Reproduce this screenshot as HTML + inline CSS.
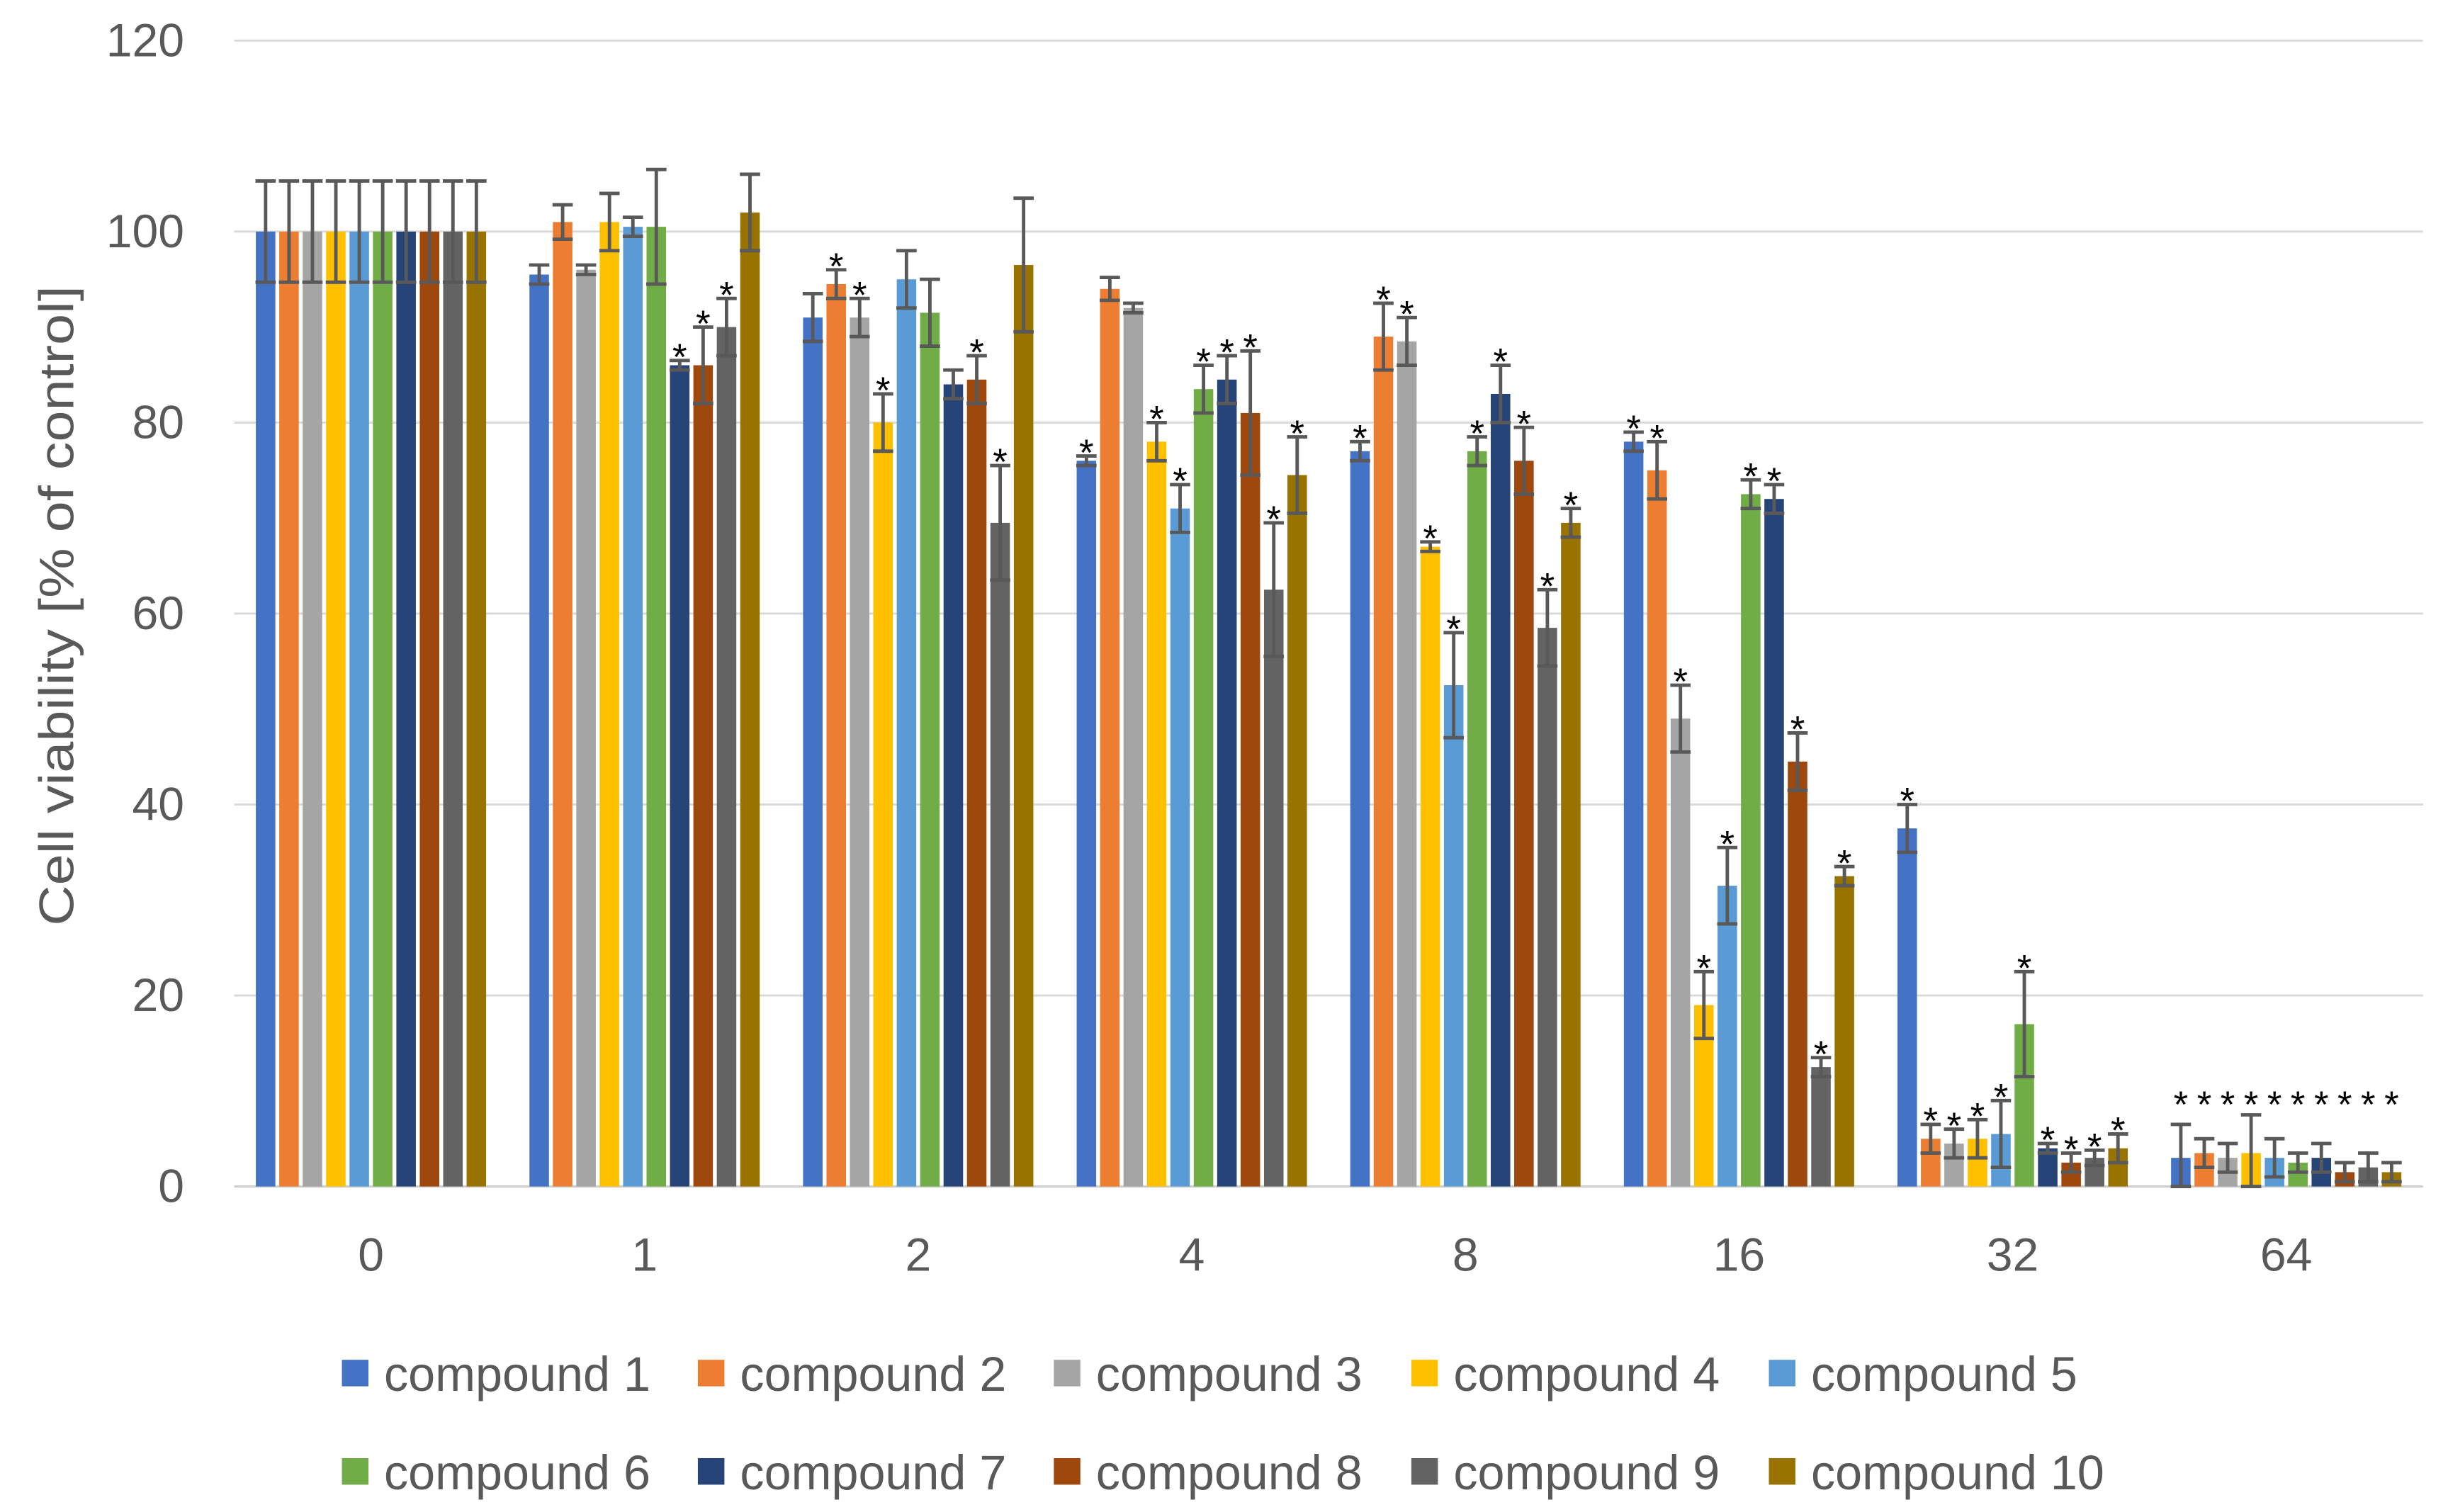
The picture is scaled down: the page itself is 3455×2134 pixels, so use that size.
<!DOCTYPE html>
<html><head><meta charset="utf-8"><style>
html,body{margin:0;padding:0;background:#fff;}
svg{display:block;}
text{font-family:"Liberation Sans",sans-serif;}
</style></head><body>
<svg id="chart" width="3455" height="2134" viewBox="0 0 1568 968.5" preserveAspectRatio="none" xmlns="http://www.w3.org/2000/svg"></svg>
<script>
const categories = ["0","1","2","4","8","16","32","64"];
const seriesNames = ["compound 1","compound 2","compound 3","compound 4","compound 5","compound 6","compound 7","compound 8","compound 9","compound 10"];
const seriesColors = ["#4472C4","#ED7D31","#A5A5A5","#FFC000","#5B9BD5","#70AD47","#264478","#9E480E","#636363","#997300"];
const values = [
 [100,100,100,100,100,100,100,100,100,100],
 [95.5,101,96,101,100.5,100.5,86,86,90,102],
 [91,94.5,91,80,95,91.5,84,84.5,69.5,96.5],
 [76,94,92,78,71,83.5,84.5,81,62.5,74.5],
 [77,89,88.5,67,52.5,77,83,76,58.5,69.5],
 [78,75,49,19,31.5,72.5,72,44.5,12.5,32.5],
 [37.5,5,4.5,5,5.5,17,4,2.5,3,4],
 [3,3.5,3,3.5,3,2.5,3,1.5,2,1.5]
];
const errors = [
 [5.3,5.3,5.3,5.3,5.3,5.3,5.3,5.3,5.3,5.3],
 [1,1.8,0.5,3,1,6,0.5,4,3,4],
 [2.5,1.5,2,3,3,3.5,1.5,2.5,6,7],
 [0.5,1.2,0.5,2,2.5,2.5,2.5,6.5,7,4],
 [1,3.5,2.5,0.5,5.5,1.5,3,3.5,4,1.5],
 [1,3,3.5,3.5,4,1.5,1.5,3,1,1],
 [2.5,1.5,1.5,2,3.5,5.5,0.5,1,0.8,1.5],
 [3.5,1.5,1.5,4,2,1,1.5,1,1.5,1]
];
const stars = [
 [0,0,0,0,0,0,0,0,0,0],
 [0,0,0,0,0,0,1,1,1,0],
 [0,1,1,1,0,0,0,1,1,0],
 [1,0,0,1,1,1,1,1,1,1],
 [1,1,1,1,1,1,1,1,1,1],
 [1,1,1,1,1,1,1,1,1,1],
 [1,1,1,1,1,1,1,1,1,1],
 [1,1,1,1,1,1,1,1,1,1]
];
const yTicks = [0,20,40,60,80,100,120];

const NS="http://www.w3.org/2000/svg";
const svg=document.getElementById('chart');
const y0=760, yTop=26, yMax=120;
const yScale=v=>y0-(v/yMax)*(y0-yTop);
const plotL=150, plotR=1552;
const catW=(plotR-plotL)/categories.length;
const xCenter=i=>plotL+catW*(i+0.5);
const slot=15, barW=12.5;
function mk(tag,attrs,parent){const e=document.createElementNS(NS,tag);for(const k in attrs)e.setAttribute(k,attrs[k]);(parent||svg).appendChild(e);return e;}

yTicks.forEach(t=>{
  const y=yScale(t);
  const g=mk('line',{x1:plotL,x2:plotR,y1:y,y2:y,stroke:t===0?'#d0d0d0':'#d9d9d9','stroke-width':t===0?1.5:1.3});
  
  
  const tx=mk('text',{x:118,y:y+10,'text-anchor':'end','font-size':30,fill:'#595959'});
  tx.textContent=t;
  
  
});
categories.forEach((c,i)=>{
  const tx=mk('text',{x:xCenter(i),y:814,'text-anchor':'middle','font-size':30,fill:'#595959'});
  tx.textContent=c;
  
  
  values[i].forEach((v,s)=>{
    const cx=xCenter(i)+(s-4.5)*slot;
    const top=yScale(v);
    const r=mk('rect',{x:cx-barW/2,y:top,width:barW,height:y0-top,fill:seriesColors[s]});
    
    
    const e=errors[i][s];
    const ya=yScale(v+e), yb=yScale(Math.max(0,v-e));
    const eg=mk('g',{stroke:'#595959','stroke-width':2.2});
    
    
    mk('line',{x1:cx,x2:cx,y1:ya,y2:yb},eg);
    mk('line',{x1:cx-6.5,x2:cx+6.5,y1:ya,y2:ya},eg);
    mk('line',{x1:cx-6.5,x2:cx+6.5,y1:yb,y2:yb},eg);
    if(stars[i][s]){
      const sy=(i===7)?yScale(10.5)+10:ya-4;
      const st=mk('text',{x:cx,y:sy+10,'text-anchor':'middle','font-size':24,fill:'#000'});
      st.textContent='*';
      
      
    }
  });
});
const yt=mk('text',{x:0,y:0,'text-anchor':'middle','font-size':31,fill:'#595959',textLength:410,lengthAdjust:'spacingAndGlyphs',transform:'translate(47,388) rotate(-90)'});
yt.textContent='Cell viability [% of control]';



const legX=[219,447,675,904,1133], legY=[880,943];
seriesNames.forEach((n,s)=>{
  const x=legX[s%5], y=legY[Math.floor(s/5)];
  const g=mk('g',{});
  
  
  mk('rect',{x:x,y:y-9,width:17,height:17,fill:seriesColors[s]},g);
  const t=mk('text',{x:x+27,y:y+11,'font-size':31,fill:'#595959'},g);
  t.textContent=n;
});
</script>
</body></html>
